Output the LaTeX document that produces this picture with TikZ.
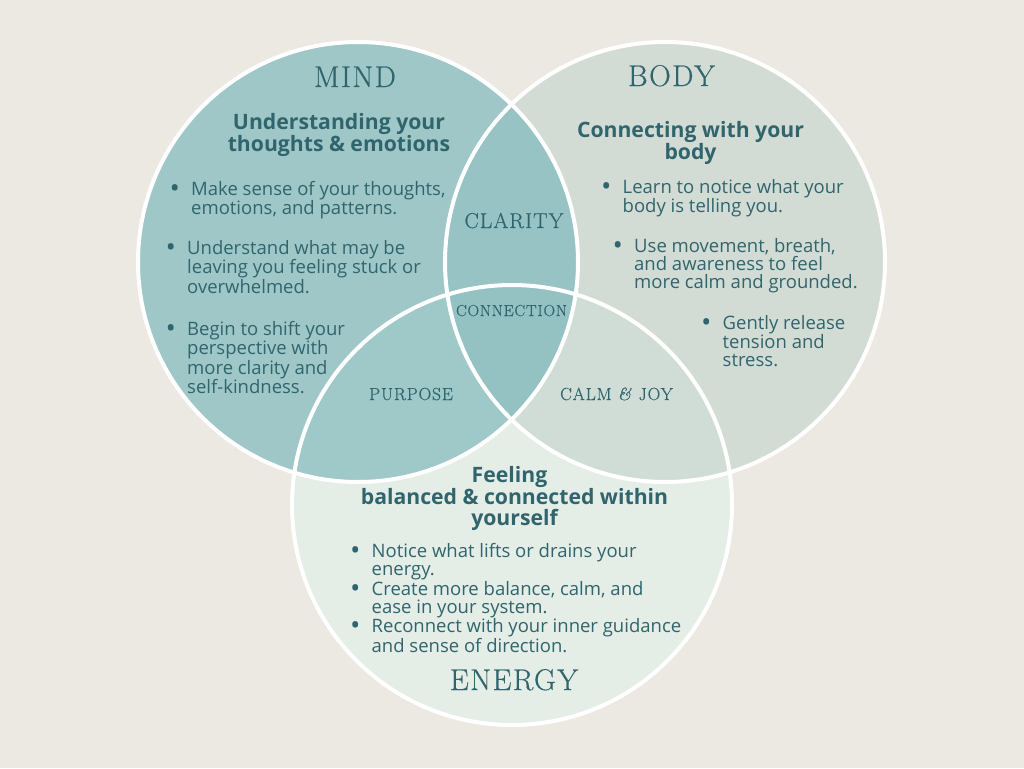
\documentclass[tikz,border=0pt]{standalone}
\usepackage{fontspec}
\setmainfont{Open Sans}
\newfontfamily\titlefont[LetterSpace=5.0,FakeBold=0.5]{Latin Modern Roman}
\definecolor{bgc}{HTML}{ECE9E3}
\definecolor{mindc}{HTML}{9FC7C7}
\definecolor{bodyc}{HTML}{D3DCD4}
\definecolor{energyc}{HTML}{E4EDE6}
\definecolor{mbc}{HTML}{97C3C4}
\definecolor{bec}{HTML}{D0DDD6}
\definecolor{mec}{HTML}{9FC8C8}
\definecolor{mbec}{HTML}{94C2C3}
\definecolor{txtc}{HTML}{30656E}
\newcommand\bu{\makebox[33pt][c]{\bfseries\fontsize{21}{18}\selectfont•}}
\newcommand\ind{\hspace*{33pt}}
\tikzset{
  ring/.style={draw=white, line width=4pt},
  bigtitle/.style={text=txtc, inner sep=0pt, anchor=base, font=\titlefont\fontsize{30}{30}\selectfont},
  smalltitle/.style={text=txtc, inner sep=0pt, anchor=base, font=\titlefont\fontsize{#1}{#1}\selectfont},
  heading/.style={text=txtc, inner sep=0pt, anchor=north, align=center, font=\bfseries\fontsize{21.2}{20.5}\selectfont},
  bul/.style={text=txtc, inner sep=0pt, anchor=north west, align=left, font=\fontsize{18.5}{18.2}\selectfont}
}
\begin{document}
\begin{tikzpicture}[x=1pt,y=-1pt]
\fill[bgc] (0,0) rectangle (1024,768);
\useasboundingbox (0,0) rectangle (1024,768);
\coordinate (cm) at (358,262);
\coordinate (cb) at (665,262);
\coordinate (ce) at (512,505);
% regions
\fill[energyc] (ce) circle[radius=220pt];
\fill[bodyc] (cb) circle[radius=220pt];
\fill[mindc] (cm) circle[radius=220pt];
\begin{scope}
  \clip (cm) circle[radius=220pt];
  \fill[mbc] (cb) circle[radius=220pt];
  \fill[mec] (ce) circle[radius=220pt];
\end{scope}
\begin{scope}
  \clip (cb) circle[radius=220pt];
  \fill[bec] (ce) circle[radius=220pt];
  \clip (cm) circle[radius=220pt];
  \fill[mbec] (ce) circle[radius=220pt];
\end{scope}
\draw[ring] (cm) circle[radius=220pt];
\draw[ring] (cb) circle[radius=220pt];
\draw[ring] (ce) circle[radius=220pt];
% titles
\node[bigtitle] (tmind) at (355,87) {MIND};
\node[bigtitle] (tbody) at (671.5,86) {BODY};
\node[bigtitle] (tenergy) at (514,690) {ENERGY};
\node[smalltitle=21.5] (tclarity) at (514,228) {CLARITY};
\node[smalltitle=16] (tconn) at (511.5,316) {CONNECTION};
\node[smalltitle=17.5] (tpurp) at (411,400) {PURPOSE};
\node[smalltitle=17.5] (tcalm) at (616.5,400) {CALM \textit{\&} JOY};
% headings
\node[heading] (hmind) at (339,113) {Understanding your\\thoughts \& emotions};
\node[heading] (hbody) at (690.5,121) {Connecting with your\\body};
\node[heading] (henergy) at (514.5,466) {Feeling\hspace*{10pt}\\balanced \& connected within\\yourself};
% mind bullets
\node[bul] (m1) at (158,181) {\bu Make sense of your thoughts,\\\ind emotions, and patterns.};
\node[bul] (m2) at (154,240) {\bu Understand what may be\\\ind leaving you feeling stuck or\\\ind overwhelmed.};
\node[bul] (m3) at (154,321) {\bu Begin to shift your\\\ind perspective with\\\ind more clarity and\\\ind self-kindness.};
% body bullets
\node[bul] (b1) at (589.5,179) {\bu Learn to notice what your\\\ind body is telling you.};
\node[bul] (b2) at (601,238) {\bu Use movement, breath,\\\ind and awareness to feel\\\ind more calm and grounded.};
\node[bul] (b3) at (689.5,315) {\bu Gently release\\\ind tension and\\\ind stress.};
% energy bullets
\node[bul] (e1) at (338.5,543) {\bu Notice what lifts or drains your\\\ind energy.\\\bu Create more balance, calm, and\\\ind ease in your system.\\\bu Reconnect with your inner guidance\\\ind and sense of direction.};
\end{tikzpicture}
\end{document}
